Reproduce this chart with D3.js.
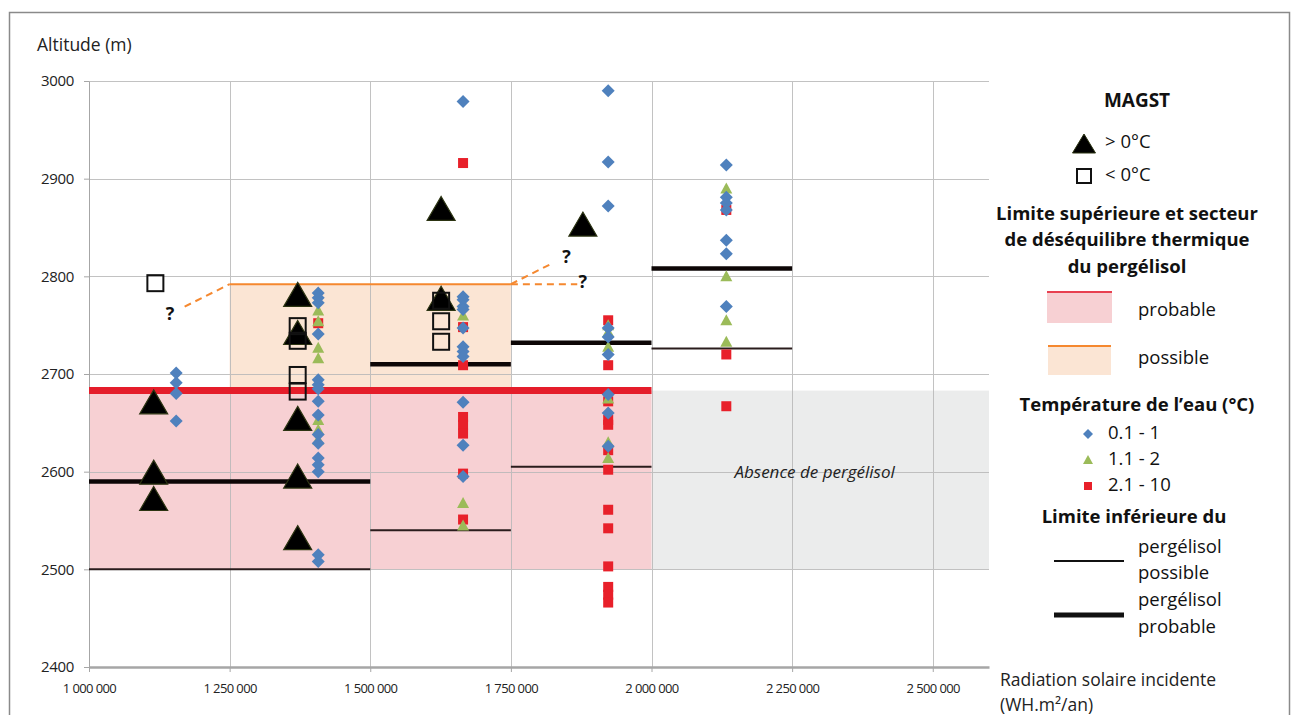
<!DOCTYPE html>
<html><head><meta charset="utf-8">
<script src="https://cdn.jsdelivr.net/npm/d3@7"></script>
<style>
html,body{margin:0;padding:0;background:#fff;}
svg{display:block;font-family:"Open Sans",sans-serif;}
</style></head>
<body><svg id="c" width="1297" height="715"></svg>
<script>
// ---------- DATA ----------
const xTicks = [1000000,1250000,1500000,1750000,2000000,2250000,2500000];
const yTicks = [2400,2500,2600,2700,2800,2900,3000];

// MAGST > 0°C (black triangles) [radiation, altitude]
const magstAbove = [[1115000,2671],[1115000,2599],[1115000,2572],
  [1371000,2781],[1371000,2742],[1371000,2654],[1371000,2595],[1371000,2532],
  [1626000,2869],[1626000,2777],[1878000,2853]];
// MAGST < 0°C (hollow squares)
const magstBelow = [[1118000,2793],[1371000,2749],[1371000,2734],[1371000,2699],[1371000,2682],
  [1626000,2775],[1626000,2754],[1626000,2733]];

// Water temperature series: x positions and altitudes
const colX = [1155000,1407500,1665000,1923000,2133000];
const water01 = [ // 0.1 - 1 °C
  [2701,2691,2680,2652],
  [2783,2778,2773,2741,2694,2689,2685,2672,2658,2638,2629,2614,2607,2600,2515,2508],
  [2979,2779,2776,2769,2766,2747,2728,2723,2718,2671,2627,2595],
  [2990,2917,2872,2747,2738,2720,2679,2660,2626],
  [2914,2881,2875,2868,2837,2823,2769]];
const water12 = [ // 1.1 - 2 °C
  [],
  [2765,2754,2727,2716,2653,2643,2633],
  [2760,2568,2545],
  [2750,2743,2728,2675,2630,2614],
  [2890,2800,2755,2733]];
const water210 = [ // 2.1 - 10 °C
  [],
  [2752],
  [2916,2748,2709,2656,2648,2639,2598,2551],
  [2755,2709,2672,2653,2648,2622,2602,2561,2542,2503,2482,2474,2466],
  [2868,2720,2667]];

// Zones [xStart, xEnd, altBottom, altTop]
const probableZone = [1000000,2000000,2500,2683];
const possibleZone = [1250000,1750000,2683,2792];
const absenceZone  = [2000000,2600000,2500,2683];
// Upper limit lines [xStart, xEnd, alt]
const upperProbable = [1000000,2000000,2683];
const upperPossible = [1250000,1750000,2792];
// Lower limits [xStart, xEnd, alt]
const lowerPossible = [[1000000,1500000,2500],[1500000,1750000,2540],[1750000,2000000,2605],[2000000,2250000,2726]];
const lowerProbable = [[1000000,1500000,2590],[1500000,1750000,2710],[1750000,2000000,2732],[2000000,2250000,2808]];
// Uncertain extensions (dashed) and "?" markers
const dashedLinks = [[[1170000,2769],[1250000,2792]],[[1750000,2792],[1868000,2792]],[[1750000,2792],[1826000,2814]]];
const questionMarks = [[1144000,2762],[1849000,2820],[1878000,2794]];

// ---------- DRAW ----------
const svg = d3.select("#c");
const L=89,R=989,T=81,B=667;
const x = d3.scaleLinear().domain([1000000,2600000]).range([L,R]);
const y = d3.scaleLinear().domain([2400,3000]).range([B,T]);

// frame
svg.append("rect").attr("x",9.5).attr("y",12.5).attr("width",1280).attr("height",720)
  .attr("fill","#fff").attr("stroke","#8a8a8a").attr("stroke-width",1.5);

// zones
function zone(z,fill){
  svg.append("rect").attr("x",x(z[0])).attr("y",y(z[3])).attr("width",x(z[1])-x(z[0]))
    .attr("height",y(z[2])-y(z[3])).attr("fill",fill);
}
zone(absenceZone,"#ebecec");
zone(probableZone,"#f7d0d3");
zone(possibleZone,"#fbe5d4");

// grid
const grid = svg.append("g").attr("stroke","#b8b8b8").attr("stroke-width",1).attr("opacity",0.85);
grid.selectAll(".h").data(yTicks.filter(d=>d>2400)).join("line")
  .attr("x1",L).attr("x2",R).attr("y1",d=>Math.round(y(d))+0.5).attr("y2",d=>Math.round(y(d))+0.5);
grid.selectAll(".v").data(xTicks.filter(d=>d>1000000)).join("line")
  .attr("y1",T).attr("y2",B).attr("x1",d=>Math.round(x(d))+0.5).attr("x2",d=>Math.round(x(d))+0.5);

// axes
const fmt = d=>d3.format(",")(d).replace(/,/g," ");
const xa = svg.append("g").attr("transform",`translate(0,${B})`)
  .call(d3.axisBottom(x).tickValues(xTicks).tickFormat(fmt).tickSize(5).tickSizeOuter(0));
xa.select(".domain").attr("stroke","#a6a6a6").attr("stroke-width",2.5);
xa.selectAll(".tick line").attr("stroke","#a6a6a6");
xa.selectAll(".tick text").attr("font-size",13).attr("fill","#222").attr("y",17).attr("dy","0.71em")
  .attr("font-family","'Open Sans',sans-serif").attr("letter-spacing","-0.6px");
const ya = svg.append("g").attr("transform",`translate(${L},0)`)
  .call(d3.axisLeft(y).tickValues(yTicks).tickFormat(d3.format("d")).tickSize(5).tickSizeOuter(0));
ya.select(".domain").attr("stroke","#a6a6a6").attr("stroke-width",1);
ya.selectAll(".tick line").attr("stroke","#a6a6a6");
ya.selectAll(".tick text").attr("font-size",15).attr("fill","#222").attr("x",-15)
  .attr("font-family","'Open Sans',sans-serif").attr("letter-spacing","-0.3px");

// upper limit lines
svg.append("line").attr("x1",x(upperPossible[0])).attr("x2",x(upperPossible[1]))
  .attr("y1",y(upperPossible[2])).attr("y2",y(upperPossible[2])).attr("stroke","#f5882f").attr("stroke-width",2);
svg.append("line").attr("x1",x(upperProbable[0])).attr("x2",x(upperProbable[1]))
  .attr("y1",y(upperProbable[2])).attr("y2",y(upperProbable[2])).attr("stroke","#e51d2a").attr("stroke-width",7);

// lower limits
svg.selectAll(".lp").data(lowerPossible).join("line")
  .attr("x1",d=>x(d[0])).attr("x2",d=>x(d[1])).attr("y1",d=>y(d[2])).attr("y2",d=>y(d[2]))
  .attr("stroke","#2a1c1c").attr("stroke-width",2);
svg.selectAll(".lq").data(lowerProbable).join("line")
  .attr("x1",d=>x(d[0])).attr("x2",d=>x(d[1])).attr("y1",d=>y(d[2])).attr("y2",d=>y(d[2]))
  .attr("stroke","#0d0606").attr("stroke-width",4.5);

// dashed uncertain lines
const ln = d3.line().x(d=>x(d[0])).y(d=>y(d[1]));
svg.selectAll(".dl").data(dashedLinks).join("path").attr("d",ln)
  .attr("fill","none").attr("stroke","#f5882f").attr("stroke-width",2).attr("stroke-dasharray","7,5");
svg.selectAll(".qm").data(questionMarks).join("text")
  .attr("x",d=>x(d[0])).attr("y",d=>y(d[1])).attr("dy","0.35em").attr("text-anchor","middle")
  .attr("font-size",18).attr("font-weight","bold").attr("fill","#111").text("?");

// absence label
svg.append("text").attr("x",x(2290000)).attr("y",y(2600)).attr("dy","0.35em").attr("text-anchor","middle")
  .attr("font-size",17).attr("font-style","italic").attr("fill","#222").text("Absence de pergélisol");

// water points
const flat = (arr)=>arr.flatMap((col,i)=>col.map(v=>[colX[i],v]));
const diamond = "M0,-6.5L6.5,0L0,6.5L-6.5,0Z";
svg.selectAll(".w3").data(flat(water210)).join("rect")
  .attr("x",d=>x(d[0])-5).attr("y",d=>y(d[1])-5).attr("width",10).attr("height",10).attr("fill","#e8202a");
svg.selectAll(".w2").data(flat(water12)).join("path")
  .attr("transform",d=>`translate(${x(d[0])},${y(d[1])})`).attr("d","M0,-6L6,5L-6,5Z").attr("fill","#9bbb59");
svg.selectAll(".w1").data(flat(water01)).join("path")
  .attr("transform",d=>`translate(${x(d[0])},${y(d[1])})`).attr("d",diamond).attr("fill","#4f81bd");

// MAGST
const bigTri = "M0,-12.5L14,11.5L-14,11.5Z";
svg.selectAll(".ma").data(magstAbove).join("path")
  .attr("transform",d=>`translate(${x(d[0])},${y(d[1])})`).attr("d",bigTri)
  .attr("fill","#000").attr("stroke","#2c3412").attr("stroke-width",1.2);
svg.selectAll(".mb").data(magstBelow).join("rect")
  .attr("x",d=>x(d[0])-8).attr("y",d=>y(d[1])-8).attr("width",16).attr("height",16)
  .attr("fill","none").attr("stroke","#111").attr("stroke-width",2);

// axis titles
svg.append("text").attr("x",37).attr("y",45).attr("dy","0.35em").attr("font-size",17.5).attr("fill","#222").text("Altitude (m)");
svg.append("text").attr("x",1000).attr("y",680).attr("dy","0.35em").attr("font-size",17.5).attr("fill","#222").text("Radiation solaire incidente");
svg.append("text").attr("x",1000).attr("y",705).attr("dy","0.35em").attr("font-size",17.5).attr("fill","#222").text("(WH.m²/an)");

// ---------- LEGEND ----------
const lg = svg.append("g");
function t(xp,yp,s,opt={}){
  return lg.append("text").attr("x",xp).attr("y",yp).attr("dy","0.35em").attr("font-size",opt.size||18.5)
    .attr("font-weight",opt.bold?"bold":"normal").attr("text-anchor",opt.anchor||"start")
    .attr("fill","#111").text(s);
}
t(1137,100,"MAGST",{bold:true,anchor:"middle",size:19});
lg.append("path").attr("transform","translate(1084,144)").attr("d","M0,-10L11.5,9L-11.5,9Z")
  .attr("fill","#000").attr("stroke","#2c3412");
t(1105,142,"> 0°C");
lg.append("rect").attr("x",1077).attr("y",169).attr("width",14).attr("height",14)
  .attr("fill","none").attr("stroke","#111").attr("stroke-width",2);
t(1105,175,"< 0°C");
t(1127,214,"Limite supérieure et secteur",{bold:true,anchor:"middle"});
t(1127,240,"de déséquilibre thermique",{bold:true,anchor:"middle"});
t(1127,267,"du pergélisol",{bold:true,anchor:"middle"});
lg.append("rect").attr("x",1047).attr("y",292).attr("width",65).attr("height",31).attr("fill","#f7d0d3");
lg.append("line").attr("x1",1047).attr("x2",1112).attr("y1",292).attr("y2",292).attr("stroke","#e84050").attr("stroke-width",2);
t(1138,310,"probable");
lg.append("rect").attr("x",1048).attr("y",346).attr("width",63).attr("height",29).attr("fill","#fbe5d4");
lg.append("line").attr("x1",1048).attr("x2",1111).attr("y1",346).attr("y2",346).attr("stroke","#f5882f").attr("stroke-width",2);
t(1138,358,"possible");
t(1137,405,"Température de l’eau (°C)",{bold:true,anchor:"middle"});
lg.append("path").attr("transform","translate(1088,434)").attr("d","M0,-5L5,0L0,5L-5,0Z").attr("fill","#4f81bd");
t(1108,433,"0.1 - 1");
lg.append("path").attr("transform","translate(1088,460)").attr("d","M0,-5L5,4L-5,4Z").attr("fill","#9bbb59");
t(1108,459,"1.1 - 2");
lg.append("rect").attr("x",1084).attr("y",482).attr("width",8).attr("height",8).attr("fill","#e8202a");
t(1108,485,"2.1 - 10");
t(1134,517,"Limite inférieure du",{bold:true,anchor:"middle"});
lg.append("line").attr("x1",1054).attr("x2",1124).attr("y1",561).attr("y2",561).attr("stroke","#111").attr("stroke-width",2);
t(1138,547,"pergélisol"); t(1138,573,"possible");
lg.append("line").attr("x1",1054).attr("x2",1124).attr("y1",615).attr("y2",615).attr("stroke","#111").attr("stroke-width",5);
t(1138,600,"pergélisol"); t(1138,627,"probable");
</script></body></html>
